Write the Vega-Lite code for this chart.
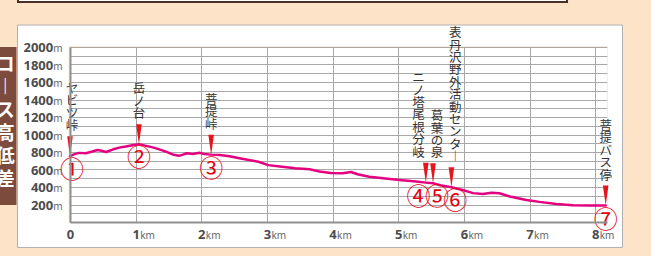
{
  "$schema": "https://vega.github.io/schema/vega-lite/v6.json",
  "width": 537,
  "height": 175,
  "autosize": {"type": "none"},
  "padding": {"left": 70, "top": 47, "right": 44, "bottom": 34},
  "background": "#fde3c8",
  "config": {
    "view": {"fill": "white", "stroke": null},
    "axis": {"ticks": false, "tickSize": 0, "title": null, "labelFlush": false, "labelOverlap": false}
  },
  "datasets": {
    "profile": [
      {"km": 0, "m": 752}, {"km": 0.07, "m": 776}, {"km": 0.14, "m": 790}, {"km": 0.24, "m": 786},
      {"km": 0.34, "m": 805}, {"km": 0.42, "m": 822}, {"km": 0.48, "m": 814}, {"km": 0.55, "m": 800},
      {"km": 0.65, "m": 828}, {"km": 0.75, "m": 850}, {"km": 0.85, "m": 862}, {"km": 0.95, "m": 878},
      {"km": 1.05, "m": 890}, {"km": 1.16, "m": 870}, {"km": 1.26, "m": 853}, {"km": 1.36, "m": 830},
      {"km": 1.46, "m": 805}, {"km": 1.58, "m": 768}, {"km": 1.66, "m": 756}, {"km": 1.72, "m": 770},
      {"km": 1.78, "m": 786}, {"km": 1.87, "m": 778}, {"km": 1.97, "m": 792}, {"km": 2.05, "m": 776},
      {"km": 2.15, "m": 770}, {"km": 2.28, "m": 766}, {"km": 2.43, "m": 752}, {"km": 2.6, "m": 726},
      {"km": 2.87, "m": 688}, {"km": 3.02, "m": 650}, {"km": 3.23, "m": 632}, {"km": 3.43, "m": 614},
      {"km": 3.65, "m": 602}, {"km": 3.8, "m": 578}, {"km": 3.97, "m": 560}, {"km": 4.15, "m": 556},
      {"km": 4.28, "m": 572}, {"km": 4.38, "m": 546}, {"km": 4.56, "m": 518}, {"km": 4.77, "m": 500},
      {"km": 5.02, "m": 480}, {"km": 5.27, "m": 462}, {"km": 5.42, "m": 450}, {"km": 5.53, "m": 442},
      {"km": 5.64, "m": 420}, {"km": 5.81, "m": 397}, {"km": 5.98, "m": 366}, {"km": 6.14, "m": 330},
      {"km": 6.29, "m": 320}, {"km": 6.42, "m": 335}, {"km": 6.54, "m": 328}, {"km": 6.7, "m": 292},
      {"km": 6.95, "m": 252}, {"km": 7.15, "m": 230}, {"km": 7.41, "m": 207}, {"km": 7.66, "m": 192},
      {"km": 7.92, "m": 188}, {"km": 8.16, "m": 188}
    ],
    "stops": [
      {"km": 0, "m": 752, "lx": 0.03, "no": "①", "label": "ヤ\nビ\nツ\n峠", "lines": 4},
      {"km": 1.05, "m": 890, "lx": 1.05, "no": "②", "label": "岳\nノ\n台", "lines": 3},
      {"km": 2.15, "m": 770, "lx": 2.15, "no": "③", "label": "菩\n提\n峠", "lines": 3},
      {"km": 5.42, "m": 450, "lx": 5.31, "no": "④", "label": "ニ\nノ\n塔\n尾\n根\n分\n岐", "lines": 7},
      {"km": 5.53, "m": 442, "lx": 5.59, "no": "⑤", "label": "葛\n葉\nの\n泉", "lines": 4},
      {"km": 5.81, "m": 397, "lx": 5.87, "no": "⑥", "label": "表\n丹\n沢\n野\n外\n活\n動\nセ\nン\nタ\n︱", "lines": 11},
      {"km": 8.16, "m": 188, "lx": 8.16, "no": "⑦", "label": "菩\n提\nバ\nス\n停", "lines": 5}
    ]
  },
  "layer": [
    {
      "data": {"values": [{}]},
      "mark": {"type": "rect", "fill": "white", "stroke": "#4b3125", "strokeWidth": 2},
      "encoding": {
        "x": {"datum": -0.792, "type": "quantitative", "axis": null},
        "x2": {"datum": 7.571},
        "y": {"datum": 2514, "type": "quantitative", "axis": null},
        "y2": {"datum": 2800}
      }
    },
    {
      "data": {"values": [{}]},
      "mark": {"type": "rect", "fill": "white"},
      "encoding": {
        "x": {"datum": -0.8, "type": "quantitative", "axis": null},
        "x2": {"datum": -0.02},
        "y": {"datum": -291, "type": "quantitative", "axis": null},
        "y2": {"datum": 2251}
      }
    },
    {
      "data": {"values": [{}]},
      "mark": {"type": "rect", "fill": "white"},
      "encoding": {
        "x": {"datum": 8.19, "type": "quantitative", "axis": null},
        "x2": {"datum": 8.416},
        "y": {"datum": -291, "type": "quantitative", "axis": null},
        "y2": {"datum": 2251}
      }
    },
    {
      "data": {"values": [{}]},
      "mark": {"type": "rect", "fill": "white"},
      "encoding": {
        "x": {"datum": -0.8, "type": "quantitative", "axis": null},
        "x2": {"datum": 8.416},
        "y": {"datum": 2008, "type": "quantitative", "axis": null},
        "y2": {"datum": 2251}
      }
    },
    {
      "data": {"values": [{}]},
      "mark": {"type": "rect", "fill": "white"},
      "encoding": {
        "x": {"datum": -0.8, "type": "quantitative", "axis": null},
        "x2": {"datum": 8.416},
        "y": {"datum": -291, "type": "quantitative", "axis": null},
        "y2": {"datum": -8}
      }
    },
    {
      "data": {"values": [{}]},
      "mark": {"type": "rect", "fillOpacity": 0, "stroke": "#b0b0b0", "strokeWidth": 1},
      "encoding": {
        "x": {"datum": -0.8, "type": "quantitative", "axis": null},
        "x2": {"datum": 8.416},
        "y": {"datum": -291, "type": "quantitative", "axis": null},
        "y2": {"datum": 2251}
      }
    },
    {
      "data": {"values": [{}]},
      "mark": {"type": "rect", "fill": "#7d4b3d"},
      "encoding": {
        "x": {"datum": -1.3, "type": "quantitative", "axis": null},
        "x2": {"datum": -0.815},
        "y": {"datum": 194, "type": "quantitative", "axis": null},
        "y2": {"datum": 2000}
      }
    },
    {
      "data": {"values": [{}]},
      "mark": {
        "type": "text",
        "text": ["コ", "︱", "ス", "高", "低", "差"],
        "font": "Noto Sans CJK JP",
        "fontWeight": "bold",
        "fontSize": 19,
        "lineHeight": 23,
        "color": "white",
        "align": "center",
        "baseline": "top"
      },
      "encoding": {
        "x": {"datum": -0.985, "type": "quantitative", "axis": null},
        "y": {"datum": 1897, "type": "quantitative", "axis": null}
      }
    },
    {
      "data": {"name": "profile"},
      "mark": {"type": "line", "color": "#e4007f", "strokeWidth": 2.5, "strokeJoin": "round", "strokeCap": "round"},
      "encoding": {
        "x": {
          "field": "km", "type": "quantitative",
          "scale": {"domain": [0, 8.18], "nice": false, "zero": false},
          "axis": {"orient": "bottom", "values": [0, 1, 2, 3, 4, 5, 6, 7, 8], "grid": true, "gridColor": "#a8a8a8", "gridWidth": 1, "labels": false, "domain": false, "ticks": false, "zindex": 0}
        },
        "y": {
          "field": "m", "type": "quantitative",
          "scale": {"domain": [0, 2000], "nice": false},
          "axis": {"orient": "left", "values": [0, 100, 200, 300, 400, 500, 600, 700, 800, 900, 1000, 1100, 1200, 1300, 1400, 1500, 1600, 1700, 1800, 1900, 2000], "grid": true, "gridColor": "#a8a8a8", "gridWidth": 1, "labels": false, "domain": false, "ticks": false, "zindex": 0}
        }
      }
    },
    {
      "data": {"name": "stops"},
      "mark": {"type": "point", "shape": "M-0.28,-2L0.28,-2L0,0Z", "filled": true, "color": "#e8141c", "size": 400, "opacity": 1},
      "encoding": {
        "x": {
          "field": "km", "type": "quantitative",
          "axis": {"orient": "bottom", "values": [0, 1, 2, 3, 4, 5, 6, 7, 8], "format": "d", "grid": false, "domain": true, "domainColor": "#8f8f8f", "domainWidth": 2, "labelFont": "Noto Sans", "labelFontWeight": "bold", "labelFontSize": 13, "labelColor": "#4d4d4d", "labelAlign": "center", "labelBaseline": "alphabetic", "labelPadding": 16.5, "zindex": 1}
        },
        "y": {
          "field": "m", "type": "quantitative",
          "axis": {"orient": "left", "values": [200, 400, 600, 800, 1000, 1200, 1400, 1600, 1800, 2000], "format": "d", "grid": false, "domain": true, "domainColor": "#8f8f8f", "domainWidth": 2, "labelFont": "Noto Sans", "labelFontWeight": "bold", "labelFontSize": 13, "labelColor": "#4d4d4d", "labelAlign": "right", "labelBaseline": "alphabetic", "labelOffset": 4.6, "labelPadding": 17.3, "zindex": 1}
        }
      }
    },
    {
      "data": {"name": "stops"},
      "mark": {"type": "text", "font": "Noto Sans CJK JP", "fontSize": 24, "color": "#e60012", "dy": 15, "align": "center", "baseline": "middle"},
      "encoding": {
        "x": {
          "field": "lx", "type": "quantitative",
          "axis": {"orient": "bottom", "values": [1, 2, 3, 4, 5, 6, 7, 8], "labelExpr": "'km'", "grid": false, "domain": false, "labelFont": "Noto Sans", "labelFontSize": 10, "labelColor": "#666666", "labelAlign": "left", "labelOffset": 4, "labelBaseline": "alphabetic", "labelPadding": 16.5, "zindex": 1}
        },
        "y": {
          "field": "m", "type": "quantitative",
          "axis": {"orient": "left", "values": [200, 400, 600, 800, 1000, 1200, 1400, 1600, 1800, 2000], "labelExpr": "'m'", "grid": false, "domain": false, "labelFont": "Noto Sans", "labelFontSize": 10, "labelColor": "#666666", "labelAlign": "right", "labelBaseline": "alphabetic", "labelOffset": 4.6, "labelPadding": 8, "zindex": 1}
        },
        "text": {"field": "no"}
      }
    },
    {
      "data": {"name": "stops"},
      "mark": {"type": "text", "font": "Noto Sans CJK JP", "fontSize": 12.5, "lineHeight": 12.4, "lineBreak": "\n", "color": "#333333", "align": "center", "baseline": "bottom", "dy": {"expr": "-23 - (datum.lines - 1) * 12.4"}},
      "encoding": {
        "x": {"field": "lx", "type": "quantitative", "axis": null},
        "y": {"field": "m", "type": "quantitative", "axis": null},
        "text": {"field": "label"}
      }
    }
  ],
  "resolve": {"axis": {"x": "independent", "y": "independent"}}
}
